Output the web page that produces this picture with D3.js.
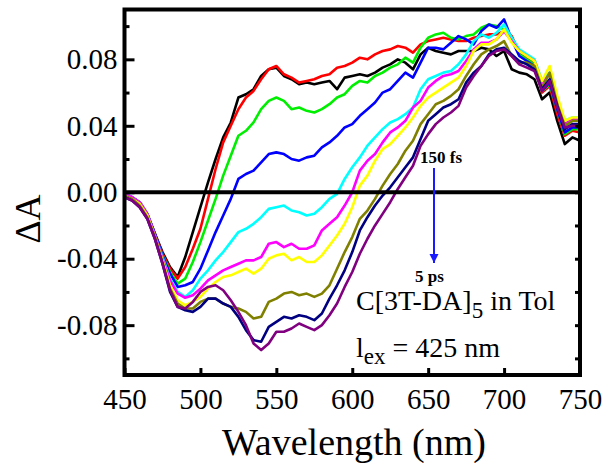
<!DOCTYPE html>
<html>
<head>
<meta charset="utf-8">
<script src="https://cdn.jsdelivr.net/npm/d3@7"></script>
<style>
body { margin: 0; background: #fff; }
svg text { font-family: "Liberation Serif", "Times New Roman", serif !important; }
</style>
</head>
<body>
<div id="chart"></div>
<script>
var width = 603,
height = 463;

// plot frame (window.top is reserved, so prefixed names)
var plotLeft = 124.5, plotRight = 580, plotTop = 9.5, plotBottom = 375;

// wavelength grid (nm)
var wavelengths = [450,455,460,465,470,475,480,485,490,495,500,505,510,515,520,525,530,535,540,545,
  550,555,560,565,570,575,580,585,590,595,600,605,610,615,620,625,630,635,640,645,
  650,655,660,665,670,675,680,685,690,695,700,705,710,715,720,725,730,735,740,745,750];

// delta A, 150 fs -> 5 ps
var dA_black = [-0.001,-0.003,-0.006,-0.013,-0.025,-0.036,-0.045,-0.051,-0.039,-0.024,-0.009,0.006,0.020,0.033,0.042,0.057,0.059,0.062,0.070,0.074,
  0.075,0.070,0.068,0.065,0.066,0.065,0.066,0.067,0.062,0.069,0.070,0.071,0.070,0.072,0.075,0.077,0.080,0.078,0.074,0.083,
  0.087,0.085,0.084,0.083,0.085,0.085,0.085,0.087,0.086,0.082,0.085,0.074,0.072,0.071,0.068,0.056,0.060,0.043,0.029,0.033,0.031];
var dA_red = [-0.001,-0.003,-0.006,-0.013,-0.025,-0.037,-0.046,-0.052,-0.045,-0.034,-0.022,-0.004,0.014,0.030,0.040,0.050,0.057,0.061,0.068,0.074,
  0.076,0.071,0.069,0.066,0.067,0.068,0.070,0.071,0.075,0.076,0.078,0.081,0.080,0.083,0.085,0.086,0.088,0.087,0.084,0.089,
  0.091,0.092,0.093,0.092,0.091,0.091,0.093,0.094,0.095,0.095,0.097,0.094,0.084,0.081,0.078,0.060,0.064,0.047,0.034,0.037,0.036];
var dA_green = [-0.002,-0.004,-0.007,-0.014,-0.026,-0.038,-0.048,-0.055,-0.052,-0.042,-0.030,-0.017,-0.004,0.010,0.022,0.034,0.037,0.042,0.050,0.055,
  0.057,0.055,0.050,0.051,0.049,0.048,0.050,0.053,0.057,0.059,0.064,0.067,0.066,0.070,0.072,0.075,0.077,0.081,0.078,0.087,
  0.093,0.095,0.096,0.093,0.092,0.094,0.095,0.099,0.101,0.100,0.098,0.093,0.083,0.080,0.077,0.061,0.065,0.050,0.035,0.038,0.038];
var dA_blue = [-0.001,-0.003,-0.006,-0.013,-0.025,-0.038,-0.049,-0.057,-0.056,-0.054,-0.046,-0.035,-0.024,-0.014,-0.004,0.008,0.011,0.013,0.018,0.023,
  0.024,0.023,0.020,0.019,0.021,0.022,0.027,0.030,0.034,0.039,0.041,0.046,0.050,0.054,0.060,0.062,0.067,0.072,0.069,0.078,
  0.087,0.087,0.086,0.090,0.094,0.092,0.089,0.097,0.101,0.099,0.104,0.092,0.082,0.079,0.076,0.061,0.066,0.050,0.036,0.039,0.039];
var dA_cyan = [0.000,-0.003,-0.006,-0.013,-0.026,-0.039,-0.052,-0.060,-0.063,-0.059,-0.052,-0.047,-0.041,-0.036,-0.030,-0.024,-0.022,-0.019,-0.015,-0.010,
  -0.009,-0.008,-0.011,-0.012,-0.014,-0.013,-0.009,-0.004,-0.001,0.008,0.015,0.021,0.028,0.033,0.038,0.042,0.044,0.047,0.051,0.062,
  0.068,0.070,0.072,0.073,0.077,0.083,0.091,0.095,0.093,0.096,0.101,0.093,0.086,0.083,0.080,0.067,0.072,0.055,0.043,0.045,0.045];
var dA_magenta = [-0.001,-0.003,-0.006,-0.013,-0.026,-0.040,-0.053,-0.061,-0.0635,-0.062,-0.058,-0.053,-0.050,-0.047,-0.045,-0.043,-0.041,-0.041,-0.039,-0.031,
  -0.030,-0.033,-0.031,-0.034,-0.034,-0.032,-0.023,-0.019,-0.015,-0.008,0.000,0.013,0.019,0.023,0.030,0.036,0.039,0.043,0.051,0.055,
  0.063,0.067,0.070,0.071,0.073,0.079,0.086,0.090,0.090,0.092,0.097,0.091,0.085,0.082,0.079,0.066,0.071,0.054,0.041,0.044,0.044];
var dA_yellow = [-0.002,-0.004,-0.007,-0.014,-0.027,-0.041,-0.056,-0.065,-0.068,-0.066,-0.063,-0.058,-0.054,-0.051,-0.050,-0.048,-0.046,-0.049,-0.046,-0.040,
  -0.038,-0.037,-0.041,-0.039,-0.042,-0.042,-0.038,-0.032,-0.026,-0.019,-0.009,0.004,0.010,0.019,0.026,0.029,0.034,0.039,0.045,0.052,
  0.057,0.060,0.063,0.066,0.069,0.076,0.085,0.089,0.089,0.092,0.098,0.090,0.085,0.082,0.079,0.067,0.076,0.058,0.043,0.045,0.045];
var dA_olive = [-0.002,-0.004,-0.008,-0.015,-0.027,-0.042,-0.058,-0.067,-0.070,-0.070,-0.066,-0.064,-0.064,-0.067,-0.069,-0.070,-0.072,-0.076,-0.075,-0.066,
  -0.064,-0.061,-0.060,-0.062,-0.061,-0.063,-0.061,-0.056,-0.046,-0.036,-0.027,-0.016,-0.011,-0.004,0.004,0.011,0.017,0.025,0.031,0.041,
  0.047,0.053,0.055,0.058,0.062,0.070,0.077,0.083,0.086,0.088,0.091,0.082,0.078,0.078,0.076,0.063,0.072,0.053,0.040,0.043,0.043];
var dA_navy = [-0.003,-0.005,-0.009,-0.016,-0.028,-0.043,-0.060,-0.069,-0.071,-0.072,-0.069,-0.064,-0.064,-0.067,-0.069,-0.075,-0.083,-0.089,-0.090,-0.081,
  -0.078,-0.075,-0.076,-0.074,-0.075,-0.077,-0.073,-0.064,-0.056,-0.047,-0.036,-0.023,-0.015,-0.008,-0.002,0.003,0.009,0.015,0.021,0.032,
  0.043,0.047,0.051,0.053,0.056,0.066,0.072,0.076,0.083,0.086,0.087,0.083,0.079,0.077,0.074,0.062,0.068,0.052,0.038,0.041,0.041];
var dA_purple = [-0.003,-0.005,-0.009,-0.016,-0.028,-0.043,-0.059,-0.069,-0.070,-0.066,-0.060,-0.057,-0.056,-0.059,-0.065,-0.072,-0.080,-0.091,-0.095,-0.091,
  -0.084,-0.084,-0.082,-0.079,-0.081,-0.083,-0.080,-0.074,-0.067,-0.057,-0.048,-0.037,-0.028,-0.020,-0.013,-0.006,0.002,0.009,0.016,0.028,
  0.035,0.041,0.045,0.048,0.052,0.063,0.070,0.076,0.082,0.085,0.086,0.082,0.077,0.075,0.073,0.061,0.067,0.051,0.039,0.040,0.040];

var colors = ["#000000","#ff0000","#00ee00","#0000ff","#00ffff","#ff00ff","#ffff00","#808000","#000080","#800080"];
var allSeries = [dA_black, dA_red, dA_green, dA_blue, dA_cyan, dA_magenta, dA_yellow, dA_olive, dA_navy, dA_purple];

var xTicks = [450,500,550,600,650,700,750];
var yTicks = [-0.08,-0.04,0,0.04,0.08];
var yMinor = [-0.1,-0.06,-0.02,0.02,0.06,0.1];
var yRight = [-0.1,-0.08,-0.06,-0.04,-0.02,0,0.02,0.04,0.06,0.08,0.1];

var serif = '"Liberation Serif", "Times New Roman", serif';

var svg = d3.select('#chart').append('svg')
.attr('width', width)
.attr('height', height)
.style('font-family', serif);

let scaleX = d3.scaleLinear().domain([450,750]).range([plotLeft,plotRight]);
let scaleY = d3.scaleLinear().domain([-0.11,0.11]).range([plotBottom,plotTop]);

var lineFunc = d3.line()
  .x(function(d, i) { return scaleX(wavelengths[i]); })
  .y(function(d) { return scaleY(d); });

svg.append('g').selectAll('path').data(allSeries).enter().append('path')
  .attr('d', lineFunc)
  .attr('fill', 'none')
  .attr('stroke', function(d, i) { return colors[i]; })
  .attr('stroke-width', 2.6)
  .attr('stroke-linejoin', 'round');

// zero line sits on top of the spectra
svg.append('line')
  .attr('x1', scaleX(450)).attr('x2', scaleX(750))
  .attr('y1', scaleY(0)).attr('y2', scaleY(0))
  .attr('stroke', 'black').attr('stroke-width', 4);

// axes
var axisB = svg.append('g').attr('transform', 'translate(0,' + plotBottom + ')')
  .call(d3.axisBottom(scaleX).tickValues(xTicks).tickSize(-7).tickPadding(13).tickFormat(function(d) { return d; }));
var axisL = svg.append('g').attr('transform', 'translate(' + plotLeft + ',0)')
  .call(d3.axisLeft(scaleY).tickValues(yTicks).tickSize(-10).tickPadding(7).tickFormat(function(d) { return d.toFixed(2); }));
var axisLm = svg.append('g').attr('transform', 'translate(' + plotLeft + ',0)')
  .call(d3.axisLeft(scaleY).tickValues(yMinor).tickSize(-5).tickFormat(''));
var axisR = svg.append('g').attr('transform', 'translate(' + plotRight + ',0)')
  .call(d3.axisRight(scaleY).tickValues(yRight).tickSize(-5).tickFormat(''));

[axisB, axisL, axisLm, axisR].forEach(function(a) {
  a.attr('font-family', null).attr('font-size', null);
  a.select('.domain').remove();
  a.selectAll('line').attr('stroke-width', 3);
  a.selectAll('text').style('font-family', serif).style('font-size', '29px').attr('fill', 'black');
});

svg.append('rect')
  .attr('x', plotLeft).attr('y', plotTop)
  .attr('width', plotRight - plotLeft).attr('height', plotBottom - plotTop)
  .attr('fill', 'none').attr('stroke', 'black').attr('stroke-width', 4);

// axis titles
svg.append('text')
  .attr('x', 354).attr('y', 455)
  .attr('text-anchor', 'middle').style('font-size', '38px')
  .text('Wavelength (nm)');
svg.append('text')
  .attr('transform', 'translate(40,219) rotate(-90)')
  .attr('text-anchor', 'middle').style('font-size', '36px')
  .text('\u0394A');

// annotations
svg.append('text').attr('x', 420).attr('y', 163)
  .style('font-size', '17px').attr('font-weight', 'bold').text('150 fs');
svg.append('text').attr('x', 415).attr('y', 282)
  .style('font-size', '17px').attr('font-weight', 'bold').text('5 ps');

svg.append('defs').append('marker')
  .attr('id', 'head').attr('viewBox', '0 0 10 10')
  .attr('refX', 10).attr('refY', 5)
  .attr('markerWidth', 4.5).attr('markerHeight', 6)
  .attr('markerUnits', 'strokeWidth')
  .attr('orient', 'auto')
  .append('path').attr('d', 'M0,0 L10,5 L0,10 Z').attr('fill', '#1a1aff');
svg.append('line')
  .attr('x1', 434).attr('y1', 168).attr('x2', 434).attr('y2', 263)
  .attr('stroke', '#1a1aff').attr('stroke-width', 2)
  .attr('marker-end', 'url(#head)');

var t1 = svg.append('text').attr('x', 356).attr('y', 310).style('font-size', '28px');
t1.append('tspan').text('C[3T-DA]');
t1.append('tspan').attr('dy', 8).style('font-size', '23px').text('5');
t1.append('tspan').attr('dy', -8).text(' in Tol');

var t2 = svg.append('text').attr('x', 356).attr('y', 357).style('font-size', '28px');
t2.append('tspan').text('l');
t2.append('tspan').attr('dy', 7).style('font-size', '23px').text('ex');
t2.append('tspan').attr('dy', -7).text(' = 425 nm');
</script>
</body>
</html>
